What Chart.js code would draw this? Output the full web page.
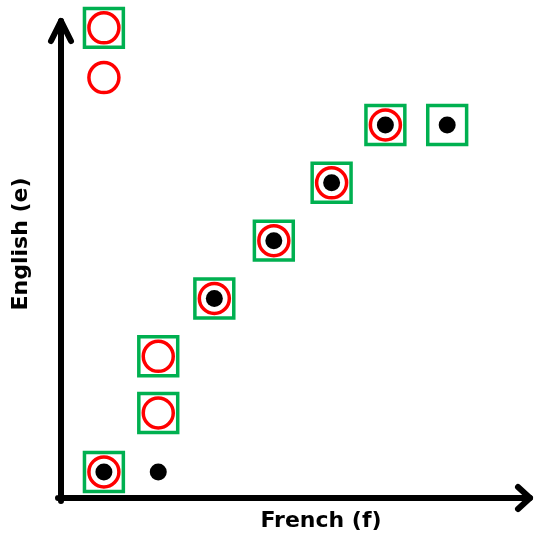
<!DOCTYPE html>
<html>
<head>
<meta charset="utf-8">
<script src="https://cdn.jsdelivr.net/npm/chart.js@4/dist/chart.umd.min.js"></script>
<style>
    body { margin: 0; background: #fff; }
    canvas { display: block; }
</style>
</head>
<body>
<canvas id="alignChart" width="535" height="539"></canvas>
<script>
// word positions (french index, english index)
const dotFrench = [1, 1.95, 2.93, 3.97, 4.98, 5.92, 7];
const dotEnglish = [1, 1, 4, 5, 6, 7, 7];

const circleFrench = [1, 1, 1, 1.95, 1.95, 2.93, 3.97, 4.98, 5.92];
const circleEnglish = [8.68, 7.82, 1, 2.02, 3, 4, 5, 6, 7];

const squareFrench = [1, 1, 1.95, 1.95, 2.93, 3.97, 4.98, 5.92, 7];
const squareEnglish = [8.68, 1, 2.02, 3, 4, 5, 6, 7, 7];

const xTitle = 'French (f)';
const yTitle = 'English (e)';

function toPoints(xs, ys) {
    return xs.map((x, i) => ({ x: x, y: ys[i] }));
}

// axes with arrow heads and the two axis labels
const arrowAxes = {
    id: 'arrowAxes',
    afterDraw(chart) {
        const ctx = chart.ctx;
        const a = chart.chartArea;
        ctx.save();
        ctx.strokeStyle = '#000';
        ctx.lineWidth = 6;
        ctx.lineCap = 'round';
        ctx.lineJoin = 'round';

        ctx.beginPath();
        ctx.moveTo(a.left, a.bottom + 3);
        ctx.lineTo(a.left, a.top + 3);
        ctx.moveTo(a.left - 3, a.bottom);
        ctx.lineTo(a.right - 3, a.bottom);
        ctx.stroke();

        ctx.beginPath();
        ctx.moveTo(a.left - 10, a.top + 23);
        ctx.lineTo(a.left, a.top + 3);
        ctx.lineTo(a.left + 10, a.top + 23);
        ctx.moveTo(a.right - 15, a.bottom - 11);
        ctx.lineTo(a.right - 3, a.bottom);
        ctx.lineTo(a.right - 15, a.bottom + 11);
        ctx.stroke();

        ctx.fillStyle = '#000';
        ctx.font = 'bold 22px "DejaVu Sans", sans-serif';
        ctx.textAlign = 'center';
        ctx.textBaseline = 'alphabetic';
        ctx.fillText(xTitle, a.left + 260, a.bottom + 29);

        ctx.translate(a.left - 34, a.top + 226);
        ctx.rotate(-Math.PI / 2);
        ctx.fillText(yTitle, 0, 0);
        ctx.restore();
    }
};

document.addEventListener('DOMContentLoaded', function() {
    const ctx = document.getElementById('alignChart').getContext('2d');
    new Chart(ctx, {
        type: 'scatter',
        data: {
            datasets: [
                {
                    label: 'dots',
                    data: toPoints(dotFrench, dotEnglish),
                    pointStyle: 'circle',
                    pointRadius: 8.5,
                    pointBorderWidth: 0,
                    backgroundColor: '#000',
                    borderColor: '#000',
                    clip: false
                },
                {
                    label: 'circles',
                    data: toPoints(circleFrench, circleEnglish),
                    pointStyle: 'circle',
                    pointRadius: 15,
                    pointBorderWidth: 3.5,
                    backgroundColor: 'rgba(0,0,0,0)',
                    borderColor: '#FF0000',
                    clip: false
                },
                {
                    label: 'squares',
                    data: toPoints(squareFrench, squareEnglish),
                    pointStyle: 'rect',
                    pointRadius: 27.5,
                    pointBorderWidth: 3.5,
                    backgroundColor: 'rgba(0,0,0,0)',
                    borderColor: '#00B050',
                    clip: false
                }
            ]
        },
        options: {
            responsive: false,
            animation: false,
            layout: {
                autoPadding: false,
                padding: { left: 61, right: 2, top: 18, bottom: 41 }
            },
            plugins: {
                legend: { display: false },
                tooltip: { enabled: false }
            },
            scales: {
                x: { type: 'linear', display: false, min: 0.25, max: 8.5 },
                y: { type: 'linear', display: false, min: 0.55, max: 8.85 }
            }
        },
        plugins: [arrowAxes]
    });
});
</script>
</body>
</html>
